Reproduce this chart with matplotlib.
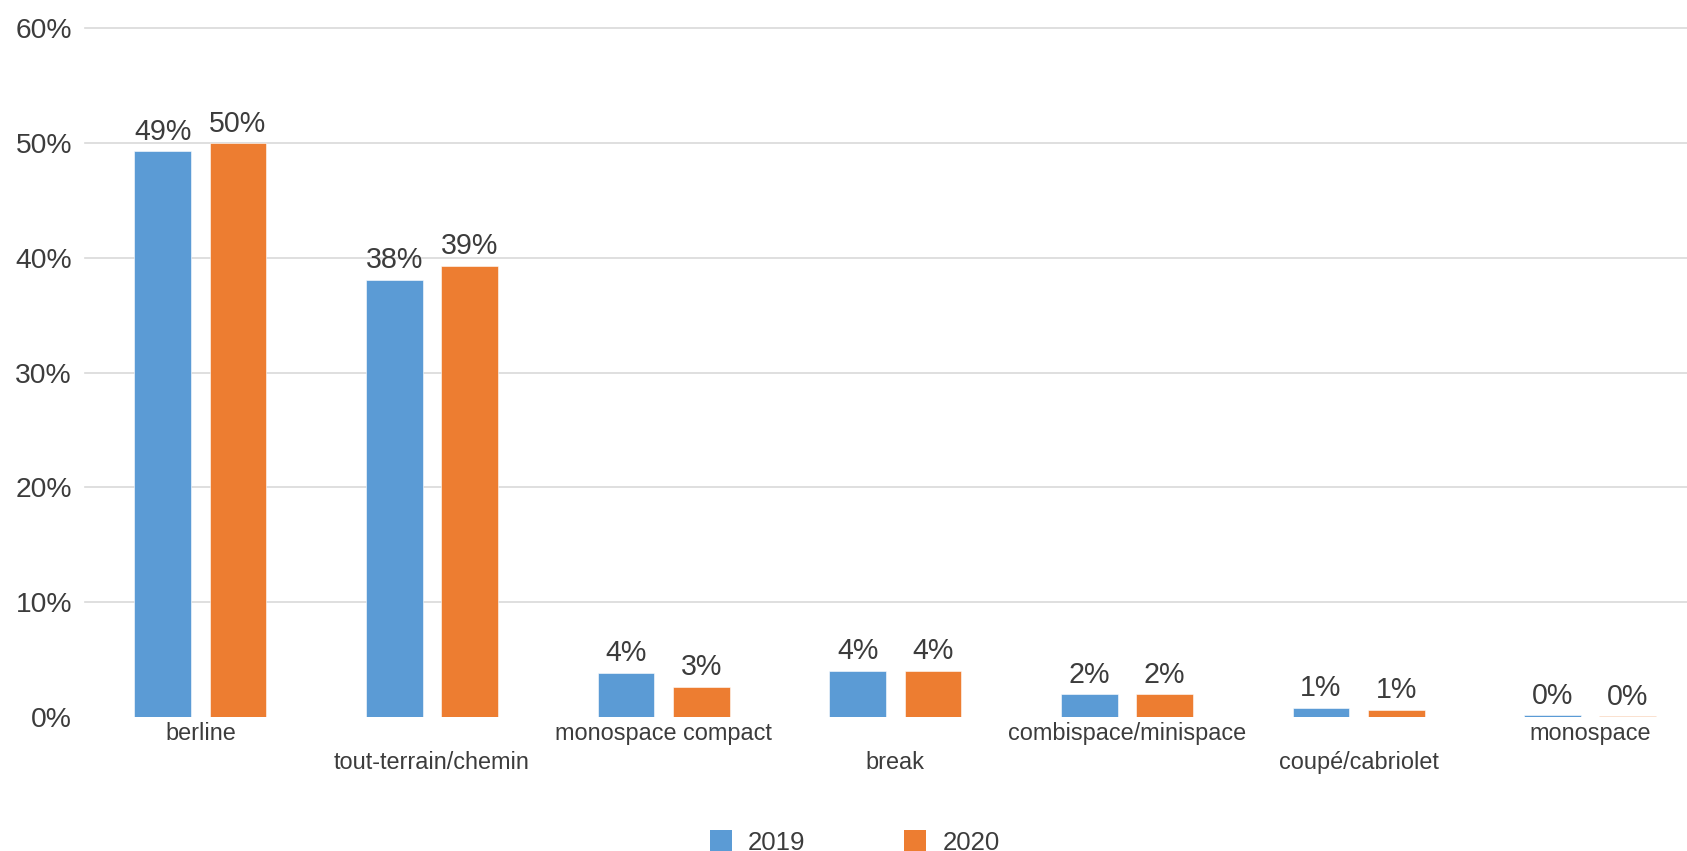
import matplotlib
matplotlib.use("Agg")
import matplotlib.pyplot as plt
from matplotlib.patches import Rectangle
import numpy as np

categories = ["berline", "tout-terrain/chemin", "monospace compact", "break",
              "combispace/minispace", "coupé/cabriolet", "monospace"]
values_2019 = [49.3, 38.1, 3.86, 4.03, 1.98, 0.78, 0.13]
values_2020 = [50.0, 39.3, 2.64, 4.03, 1.98, 0.61, 0.04]
series_names = ["2019", "2020"]
yticks = [0, 10, 20, 30, 40, 50, 60]
ytick_labels = ["0%", "10%", "20%", "30%", "40%", "50%", "60%"]

BLUE = "#5B9BD5"
ORANGE = "#ED7D31"
TEXT = "#3C3C3C"
GRID = "#D9D9D9"

plt.rcParams['font.family'] = ['Liberation Sans', 'DejaVu Sans']

W, H = 1687, 851
fig = plt.figure(figsize=(W / 100, H / 100), dpi=100)

ax_left, ax_right = 84.5, 1706.0
ax_bottom, ax_top = 716.8, 28.3
ax = fig.add_axes([ax_left / W, 1 - ax_bottom / H,
                   (ax_right - ax_left) / W, (ax_bottom - ax_top) / H])

x = np.arange(len(categories))
bw = 0.245
off = 0.1625
b1 = ax.bar(x - off, values_2019, bw, color=BLUE, edgecolor="white", linewidth=0.4, zorder=3)
b2 = ax.bar(x + off, values_2020, bw, color=ORANGE, edgecolor="white", linewidth=0.4, zorder=3)

ax.set_xlim(-0.5, len(categories) - 0.5)
ax.set_ylim(0, 60)

# gridlines
for yv in yticks[1:]:
    ax.axhline(yv, color=GRID, linewidth=1.2, zorder=1, clip_on=False)

for s in ax.spines.values():
    s.set_visible(False)

ax.set_yticks(yticks)
ax.set_yticklabels(ytick_labels)
ax.tick_params(axis='y', length=0, pad=9.0, labelsize=20.3, labelcolor=TEXT)
ax.set_xticks([])

# data labels
for bars, vals in ((b1, values_2019), (b2, values_2020)):
    for rect, v in zip(bars, vals):
        ax.annotate(f"{round(v):.0f}%", (rect.get_x() + rect.get_width() / 2, v),
                    xytext=(0, 8.3), textcoords="offset points",
                    ha="center", va="baseline", fontsize=20.6, color=TEXT, zorder=4)

# staggered category labels
axh = ax_bottom - ax_top
row1 = -(740.0 - ax_bottom) / axh
row2 = -(769.3 - ax_bottom) / axh
trans = ax.get_xaxis_transform()
for i, c in enumerate(categories):
    ax.text(i, row1 if i % 2 == 0 else row2, c, transform=trans,
            ha="center", va="baseline", fontsize=16.9, color=TEXT)

# legend
def px2fig(px, py):
    return px / W, 1 - py / H

sq = 22
for (sx, tx, col, name) in ((710, 747.3, BLUE, series_names[0]),
                            (904, 942.7, ORANGE, series_names[1])):
    fx, fy = px2fig(sx, 830 + sq)
    fig.add_artist(Rectangle((fx, fy), sq / W, sq / H, transform=fig.transFigure,
                             facecolor=col, edgecolor="none"))
    tfx, tfy = px2fig(tx, 849.5)
    fig.text(tfx, tfy, name, ha="left", va="baseline", fontsize=18.6, color=TEXT)

fig.savefig("out.png", dpi=100)
